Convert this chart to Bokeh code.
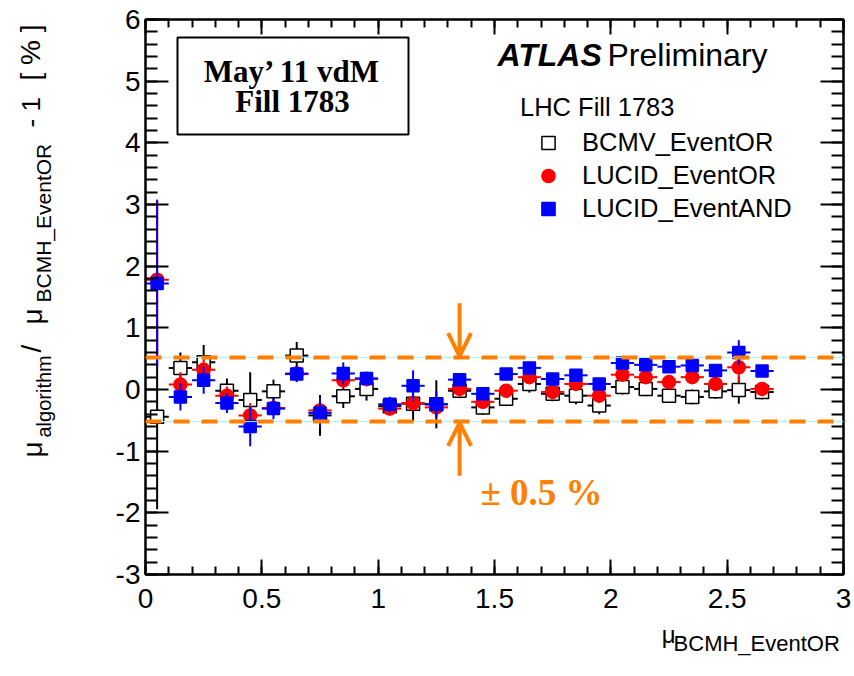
import math
from bokeh.plotting import figure
from bokeh.layouts import row, column
from bokeh.models import (ColumnDataSource, Span, Label, BoxAnnotation, Arrow, OpenHead,
                          LinearAxis, Legend, LegendItem, CustomJSTickFormatter,
                          SingleIntervalTicker)
from bokeh.embed import file_html
from bokeh.resources import INLINE

# ---------------- data ----------------
mu_bcmh = [0.05, 0.15, 0.25, 0.35, 0.45, 0.55, 0.65, 0.75, 0.85, 0.95,
           1.05, 1.15, 1.25, 1.35, 1.45, 1.55, 1.65, 1.75, 1.85, 1.95,
           2.05, 2.15, 2.25, 2.35, 2.45, 2.55, 2.65]
bin_half_width = 0.05

bcmv_eventor = [-0.44, 0.35, 0.44, -0.02, -0.17, -0.03, 0.55, -0.42, -0.11, 0.01,
                -0.27, -0.23, -0.24, -0.02, -0.29, -0.15, 0.09, -0.07, -0.10, -0.26,
                0.04, 0.01, -0.10, -0.12, -0.03, -0.01, -0.04]
bcmv_err = [1.50, 0.25, 0.28, 0.20, 0.45, 0.19, 0.22, 0.33, 0.19, 0.19,
            0.15, 0.28, 0.39, 0.12, 0.12, 0.12, 0.14, 0.12, 0.14, 0.14,
            0.12, 0.12, 0.12, 0.12, 0.12, 0.22, 0.12]

lucid_eventor = [1.78, 0.08, 0.32, -0.10, -0.42, -0.30, 0.26, -0.34, 0.15, 0.17,
                 -0.31, -0.22, -0.29, 0.01, -0.20, -0.02, 0.20, -0.04, 0.09, -0.10,
                 0.24, 0.20, 0.12, 0.20, 0.09, 0.36, 0.01]
lucid_or_err = [1.30, 0.20, 0.20, 0.15, 0.20, 0.12, 0.12, 0.20, 0.12, 0.12,
                0.10, 0.12, 0.15, 0.10, 0.10, 0.10, 0.10, 0.12, 0.10, 0.10,
                0.10, 0.10, 0.10, 0.10, 0.10, 0.25, 0.10]

lucid_eventand = [1.72, -0.12, 0.15, -0.22, -0.60, -0.31, 0.25, -0.38, 0.26, 0.18,
                  -0.24, 0.06, -0.24, 0.16, -0.07, 0.25, 0.35, 0.17, 0.23, 0.09,
                  0.43, 0.40, 0.37, 0.39, 0.31, 0.60, 0.30]
lucid_and_err = [1.35, 0.22, 0.22, 0.16, 0.32, 0.17, 0.13, 0.24, 0.18, 0.10,
                 0.12, 0.25, 0.21, 0.10, 0.10, 0.10, 0.10, 0.10, 0.10, 0.10,
                 0.10, 0.10, 0.10, 0.10, 0.10, 0.20, 0.10]

band_level = 0.52          # +-0.5 % band lines
arrow_x = 1.35
arrow_outer = 1.40

ORANGE = "#ff7f00"
SANS = "Liberation Sans"
SERIF = "Liberation Serif"

YLAB_W = 90     # width of the y-title strip
XLAB_H = 56     # height of the x-title strip

# ---------------- main figure ----------------
p = figure(width=854 - YLAB_W, height=676 - XLAB_H, x_range=(0, 3), y_range=(-3, 6),
           output_backend="svg", toolbar_location=None,
           min_border_left=145 - YLAB_W, min_border_right=11, min_border_top=19,
           min_border_bottom=46)
p.background_fill_color = "white"
p.border_fill_color = "white"
p.grid.visible = False
p.outline_line_color = "black"
p.outline_line_width = 2

fmt = CustomJSTickFormatter(code="return String(Math.round(tick*10)/10)")
blank = CustomJSTickFormatter(code="return ''")

def style_axis(ax, major_in, minor_in, labels=True):
    ax.axis_line_color = "black"
    ax.axis_line_width = 2
    ax.major_tick_in = major_in
    ax.major_tick_out = 0
    ax.minor_tick_in = minor_in
    ax.minor_tick_out = 0
    ax.major_tick_line_width = 2
    ax.minor_tick_line_width = 2
    ax.major_tick_line_color = "black"
    ax.minor_tick_line_color = "black"
    ax.major_label_text_font = SANS
    ax.major_label_text_font_size = "28px"
    ax.major_label_text_color = "black"
    ax.formatter = fmt if labels else blank

xt = SingleIntervalTicker(interval=0.5, num_minor_ticks=5)
yt = SingleIntervalTicker(interval=1, num_minor_ticks=5)
p.xaxis.ticker = xt
p.yaxis.ticker = yt
style_axis(p.xaxis[0], 15, 8)
style_axis(p.yaxis[0], 23, 12)
p.xaxis.major_label_standoff = 14
p.yaxis.major_label_standoff = 5

top_ax = LinearAxis(ticker=xt)
style_axis(top_ax, 15, 8, labels=False)
top_ax.major_label_standoff = 0
p.add_layout(top_ax, "above")
right_ax = LinearAxis(ticker=yt)
style_axis(right_ax, 23, 12, labels=False)
right_ax.major_label_standoff = 0
p.add_layout(right_ax, "right")

# band lines
for lvl in (band_level, -band_level):
    p.add_layout(Span(location=lvl, dimension="width", line_color="#aaf0f0", line_width=1))
    p.add_layout(Span(location=lvl, dimension="width", line_color=ORANGE,
                      line_width=4, line_dash="16 12"))

# ---------------- series ----------------
def series(y, err, color, marker, size, fill):
    src = ColumnDataSource(dict(
        x=mu_bcmh, y=y,
        ylo=[v - e for v, e in zip(y, err)], yhi=[v + e for v, e in zip(y, err)],
        xlo=[x - bin_half_width for x in mu_bcmh], xhi=[x + bin_half_width for x in mu_bcmh]))
    p.segment(x0="x", y0="ylo", x1="x", y1="yhi", source=src, line_color=color, line_width=2)
    p.segment(x0="xlo", y0="y", x1="xhi", y1="y", source=src, line_color=color, line_width=2)
    return p.scatter(x="x", y="y", source=src, marker=marker, size=size,
                     fill_color=fill, line_color=color, line_width=1.5)

r_bcmv = series(bcmv_eventor, bcmv_err, "black", "square", 13, "white")
r_lor = series(lucid_eventor, lucid_or_err, "#ff0000", "circle", 13, "#ff0000")
r_land = series(lucid_eventand, lucid_and_err, "#0000ff", "square", 12, "#0000ff")

# arrows
p.add_layout(Arrow(end=OpenHead(size=23, line_color=ORANGE, line_width=4),
                   x_start=arrow_x, y_start=arrow_outer, x_end=arrow_x, y_end=band_level + 0.02,
                   line_color=ORANGE, line_width=4))
p.add_layout(Arrow(end=OpenHead(size=23, line_color=ORANGE, line_width=4),
                   x_start=arrow_x, y_start=-arrow_outer, x_end=arrow_x, y_end=-band_level - 0.02,
                   line_color=ORANGE, line_width=4))
p.add_layout(Label(x=335, y=82, x_units="screen", y_units="screen", text="± 0.5 %",
                   text_font=SERIF, text_font_style="bold", text_font_size="37px",
                   text_color=ORANGE, text_align="left", text_baseline="middle"))

# ---------------- legend ----------------
legend = Legend(items=[LegendItem(label="BCMV_EventOR", renderers=[r_bcmv]),
                       LegendItem(label="LUCID_EventOR", renderers=[r_lor]),
                       LegendItem(label="LUCID_EventAND", renderers=[r_land])],
                title="LHC Fill 1783", location=(375, 349),
                title_text_font=SANS, title_text_font_size="25.5px",
                title_text_font_style="normal", title_text_color="black", title_standoff=4,
                label_text_font=SANS, label_text_font_size="25.5px", label_text_color="black",
                glyph_width=56, glyph_height=33, label_height=33, label_standoff=6,
                spacing=0, padding=0, margin=0,
                border_line_color=None, background_fill_alpha=0)
p.add_layout(legend)

# ---------------- texts inside the frame ----------------
p.add_layout(Label(x=352, y=520, x_units="screen", y_units="screen", text="ATLAS",
                   text_font=SANS, text_font_style="bold italic", text_font_size="32px",
                   text_color="black", text_baseline="middle"))
p.add_layout(Label(x=462, y=520, x_units="screen", y_units="screen", text="Preliminary",
                   text_font=SANS, text_font_size="32px",
                   text_color="black", text_baseline="middle"))

p.add_layout(BoxAnnotation(left=32, right=263, bottom=440, top=537,
                           left_units="screen", right_units="screen",
                           bottom_units="screen", top_units="screen",
                           fill_alpha=0, line_color="black", line_alpha=1, line_width=2))
for txt, yy in (("May’ 11 vdM", 503), ("Fill 1783", 473)):
    p.add_layout(Label(x=147, y=yy, x_units="screen", y_units="screen", text=txt,
                       text_font=SERIF, text_font_style="bold", text_font_size="31px",
                       text_color="black", text_align="center", text_baseline="middle"))

# ---------------- title strips ----------------
def strip(w, h):
    f = figure(width=w, height=h, x_range=(0, w), y_range=(0, h),
               output_backend="svg", toolbar_location=None, min_border=0,
               x_axis_location=None, y_axis_location=None)
    f.grid.visible = False
    f.outline_line_color = None
    f.background_fill_color = "white"
    f.border_fill_color = "white"
    return f

# y-axis title (rotated pieces), coordinates in the strip's own pixels
yl = strip(YLAB_W, 676)
ypieces = [("μ", 32, 219, "28px"), ("algorithm", 43, 239, "20px"),
           ("/", 31, 324, "28px"), ("μ", 32, 352, "28px"),
           ("BCMH_EventOR", 43, 374, "21px"), ("- 1", 30, 549, "26px"),
           ("[ % ]", 30, 596, "28px")]
for txt, xx, yy, fs in ypieces:
    yl.add_layout(Label(x=xx, y=yy, text=txt, angle=math.pi / 2,
                        text_font=SANS, text_font_size=fs, text_color="black",
                        text_align="left", text_baseline="middle"))

# x-axis title
xl = strip(854 - YLAB_W, XLAB_H)
xl.add_layout(Label(x=565, y=XLAB_H, text="μ", text_font=SANS, text_font_size="24px",
                    text_color="black", text_baseline="top"))
xl.add_layout(Label(x=760, y=33, text="BCMH_EventOR", text_font=SANS, text_font_size="22px",
                    text_color="black", text_align="right", text_baseline="middle"))

layout = row(yl, column(p, xl, spacing=0), spacing=0)
open("out.html", "w").write(file_html(layout, INLINE))
